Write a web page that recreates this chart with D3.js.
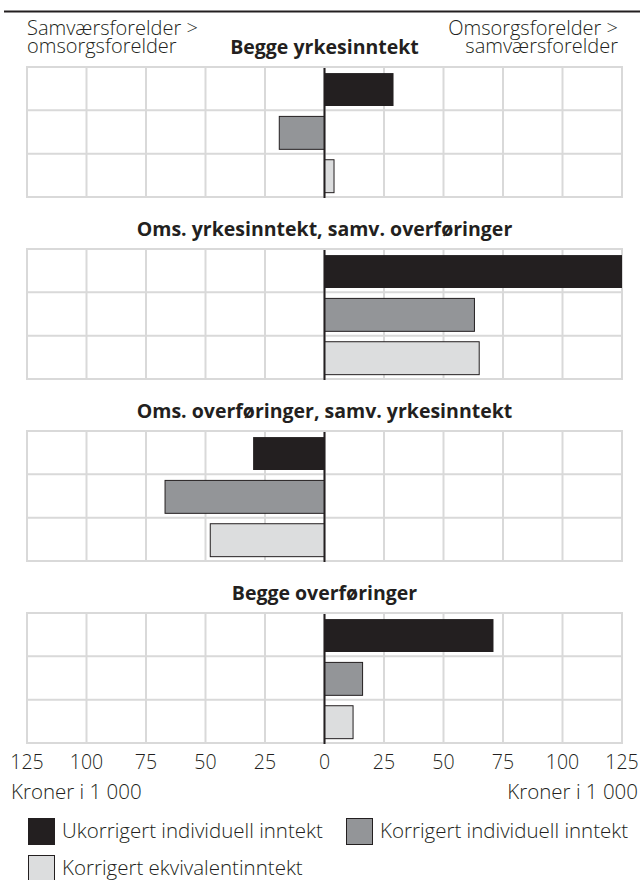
<!DOCTYPE html>
<html>
<head>
<meta charset="utf-8">
<script src="https://cdn.jsdelivr.net/npm/d3@7.9.0/dist/d3.min.js"></script>
<style>
  body { margin: 0; background: #fff; }
  svg { display: block; font-family: "Open Sans", "Noto Sans", sans-serif; }
  text { fill: #231f20; }
</style>
</head>
<body>
<svg id="chart" width="640" height="880"></svg>
<script>
const panels = [
  "Begge yrkesinntekt",
  "Oms. yrkesinntekt, samv. overføringer",
  "Oms. overføringer, samv. yrkesinntekt",
  "Begge overføringer"
];
const series = [
  "Ukorrigert individuell inntekt",
  "Korrigert individuell inntekt",
  "Korrigert ekvivalentinntekt"
];
// values in 1000 kr per panel, negative = samværsforelder > omsorgsforelder
const ukorrigert = [29, 125, -30, 71];
const korrigertInd = [-19, 63, -67, 16];
const korrigertEkv = [4, 65, -48, 12];
const tickValues = [-125, -100, -75, -50, -25, 0, 25, 50, 75, 100, 125];
const tickLabels = ["125", "100", "75", "50", "25", "0", "25", "50", "75", "100", "125"];

const colors = ["#231f20", "#939598", "#dcddde"];
const seriesValues = [ukorrigert, korrigertInd, korrigertEkv];

const svg = d3.select("#chart");

let x = d3.scaleLinear().domain([-125, 125]).range([27, 622]);

// top rule
svg.append("line")
  .attr("x1", 4).attr("x2", 640).attr("y1", 11.5).attr("y2", 11.5)
  .attr("stroke", "#231f20").attr("stroke-width", 2);

// header labels (two lines each, tight leading like the original)
const header = svg.append("g").attr("font-size", 20).attr("font-weight", 300);
let leftHead = header.append("text").attr("y", 35);
leftHead.append("tspan").attr("x", 27).text("Samværsforelder >");
leftHead.append("tspan").attr("x", 27).attr("dy", 18).text("omsorgsforelder");
let rightHead = header.append("text").attr("y", 35).attr("text-anchor", "end");
rightHead.append("tspan").attr("x", 618).text("Omsorgsforelder >");
rightHead.append("tspan").attr("x", 618).attr("dy", 18).text("samværsforelder");

const panelTop = d3.scaleLinear().domain([0, 1]).range([67, 249]);
const panelHeight = 130;

let rows = d3.scaleBand().domain(series).range([0, panelHeight]);

panels.forEach((title, p) => {
  let top = panelTop(p);
  let g = svg.append("g").attr("transform", `translate(0,${top})`);

  svg.append("text")
    .attr("x", x(0)).attr("y", top - 13)
    .attr("text-anchor", "middle")
    .attr("font-size", 19.5).attr("font-weight", "bold")
    .text(title);

  // grid
  g.selectAll(".vgrid")
    .data(tickValues)
    .join("line")
    .attr("x1", (d) => x(d)).attr("x2", (d) => x(d))
    .attr("y1", 0).attr("y2", panelHeight)
    .attr("stroke", "#d9d9d9").attr("stroke-width", 2);

  g.selectAll(".hgrid")
    .data([0, ...series.map((s) => rows(s) + rows.bandwidth())])
    .join("line")
    .attr("x1", x(-125) - 1).attr("x2", x(125) + 1)
    .attr("y1", (d) => d).attr("y2", (d) => d)
    .attr("stroke", "#d9d9d9").attr("stroke-width", 2);

  // bars
  series.forEach((s, i) => {
    let v = seriesValues[i][p];
    g.append("rect")
      .attr("x", x(Math.min(0, v)))
      .attr("width", Math.abs(x(v) - x(0)))
      .attr("y", rows(s) + rows.bandwidth() * 0.14)
      .attr("height", rows.bandwidth() * 0.76)
      .attr("fill", colors[i])
      .attr("stroke", i === 0 ? "none" : "#231f20")
      .attr("stroke-width", 1);
  });

  // zero line
  g.append("line")
    .attr("x1", x(0)).attr("x2", x(0))
    .attr("y1", 1).attr("y2", panelHeight + 1)
    .attr("stroke", "#231f20").attr("stroke-width", 2);
});

// axis labels under last panel
let axisY = panelTop(panels.length - 1) + panelHeight;
svg.append("g")
  .selectAll("text")
  .data(tickValues)
  .join("text")
  .attr("x", (d) => x(d))
  .attr("y", axisY + 26)
  .attr("text-anchor", "middle")
  .attr("font-size", 19.5).attr("font-weight", 300)
  .text((d, i) => tickLabels[i]);

svg.append("text").attr("x", 11).attr("y", axisY + 56)
  .attr("font-size", 20.5).attr("font-weight", 300).text("Kroner i 1 000");
svg.append("text").attr("x", 638).attr("y", axisY + 56).attr("text-anchor", "end")
  .attr("font-size", 20.5).attr("font-weight", 300).text("Kroner i 1 000");

// legend
const legendPos = [[28, 818], [346, 818], [28, 855]];
const legend = svg.append("g");
series.forEach((s, i) => {
  let [lx, ly] = legendPos[i];
  legend.append("rect")
    .attr("x", lx + 0.5).attr("y", ly + 0.5)
    .attr("width", 26).attr("height", 26)
    .attr("fill", colors[i])
    .attr("stroke", "#231f20").attr("stroke-width", 1);
  legend.append("text")
    .attr("x", lx + 34).attr("y", ly + 20)
    .attr("font-size", 20.5).attr("font-weight", 300)
    .text(s);
});
</script>
</body>
</html>
